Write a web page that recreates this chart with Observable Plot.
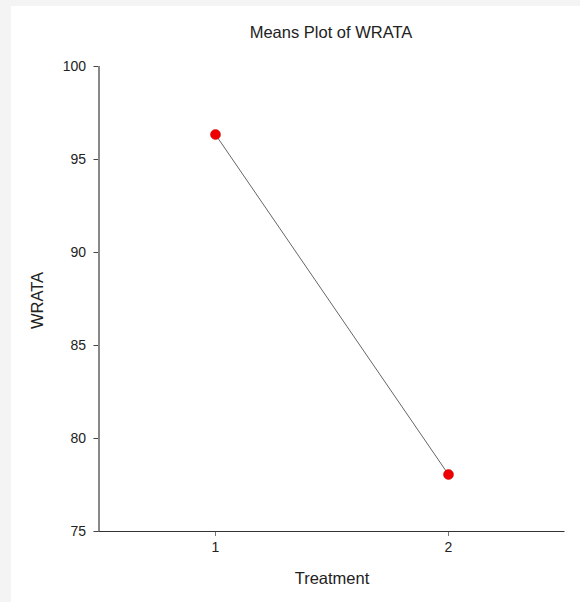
<!DOCTYPE html>
<html>
<head>
<meta charset="utf-8">
<script src="https://cdn.jsdelivr.net/npm/d3@7"></script>
<script src="https://cdn.jsdelivr.net/npm/@observablehq/plot@0.6"></script>
<style>
  html, body { margin: 0; padding: 0; background: #f4f4f4; width: 580px; height: 602px; overflow: hidden; }
  #chart { position: absolute; left: 11px; top: 6px; width: 569px; height: 596px; background: #fff; }
</style>
</head>
<body>
<div id="chart"></div>
<script>
const treatments = [1, 2];
const means = [96.34, 78.06];
const yTicks = [75, 80, 85, 90, 95, 100];
const xTicks = [1, 2];
const titleText = "Means Plot of WRATA";
const xLabel = "Treatment";
const yLabel = "WRATA";

const data = treatments.map((t, i) => ({treatment: t, mean: means[i]}));

const plot = Plot.plot({
  width: 569,
  height: 596,
  marginLeft: 87.5,
  marginRight: 15.5,
  marginTop: 60,
  marginBottom: 71,
  style: {fontFamily: "'Liberation Sans', Arial, sans-serif", fontSize: "14px", background: "white", color: "#222"},
  x: {domain: [0.5, 2.5], label: null},
  y: {domain: [75, 100], label: null},
  marks: [
    Plot.axisY({ticks: yTicks, tickSize: 5, tickPadding: 8, label: null, stroke: "#444", fill: "#222", fontSize: 14}),
    Plot.axisX({ticks: xTicks, tickSize: 5, tickPadding: 6, label: null, stroke: "#777", fill: "#222", fontSize: 14, tickFormat: d => String(d)}),
    Plot.ruleY([75], {stroke: "#333", strokeWidth: 1}),
    Plot.ruleX([0.5], {stroke: "#888", strokeWidth: 2}),
    Plot.line(data, {x: "treatment", y: "mean", stroke: "#666", strokeWidth: 1}),
    Plot.dot(data, {x: "treatment", y: "mean", r: 5, fill: "#ee0000", stroke: "#cc0000", strokeWidth: 0.5}),
    Plot.text([titleText], {frameAnchor: "top", dx: -1, dy: -33.5, text: d => d, fontSize: 16.5, fill: "#222", lineAnchor: "middle"}),
    Plot.text([xLabel], {frameAnchor: "bottom", dy: 47, text: d => d, fontSize: 16.5, fill: "#222", lineAnchor: "middle"}),
    Plot.text([yLabel], {frameAnchor: "left", dx: -61.5, dy: 1.5, text: d => d, fontSize: 16.5, fill: "#222", rotate: -90, textAnchor: "middle", lineAnchor: "middle"})
  ]
});
document.getElementById("chart").appendChild(plot);
</script>
</body>
</html>
